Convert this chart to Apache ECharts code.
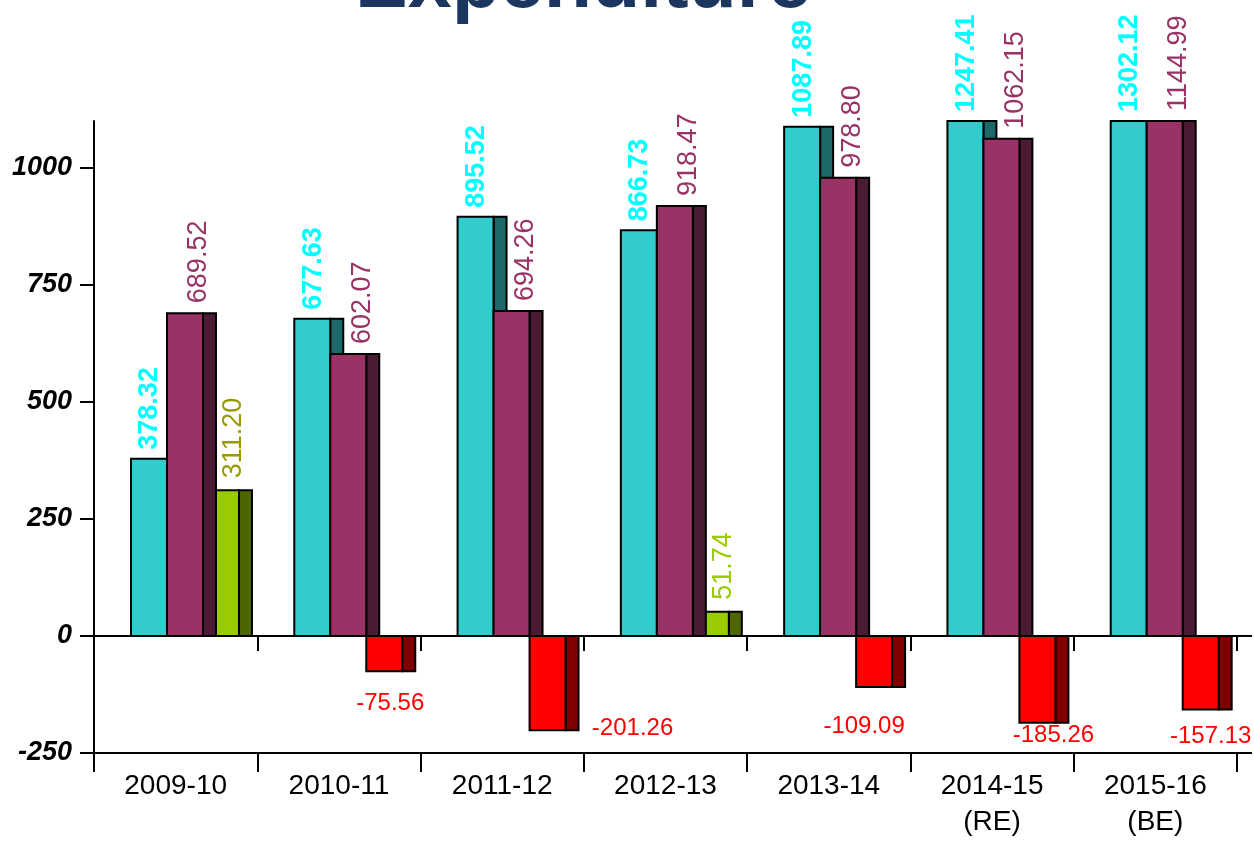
<!DOCTYPE html>
<html><head><meta charset="utf-8">
<script src="https://cdn.jsdelivr.net/npm/echarts@6/dist/echarts.min.js"></script>
<style>html,body{margin:0;padding:0;background:#fff}#c{width:1254px;height:841px}</style>
</head><body><div id="c"></div>
<script>
// ---- data ----
const categories = ['2009-10', '2010-11', '2011-12', '2012-13', '2013-14', '2014-15\n(RE)', '2015-16\n(BE)'];
const receipts = [378.32, 677.63, 895.52, 866.73, 1087.89, 1247.41, 1302.12];
const expenditure = [689.52, 602.07, 694.26, 918.47, 978.80, 1062.15, 1144.99];
const balance = [311.20, -75.56, -201.26, 51.74, -109.09, -185.26, -157.13];
const yTicks = [-250, 0, 250, 500, 750, 1000];
const yMin = -250, yMax = 1100, yStep = 250;

// ---- layout / style (not data) ----
const FONT = 'Arial, "Liberation Sans", sans-serif';
const G0 = 0.2266, FW = 0.2204, SW = 0.0796;   // fractions of category band
const deficitLabelNudge = [[0, 0], [6, 32], [85, -2], [0, 0], [-10, 39], [16, 13], [10, 27]];
const surplusLabelColors = ['#999900', '#99CC00', '#99CC00', '#99CC00', '#99CC00', '#99CC00', '#99CC00'];

function makeRender(slot, getColors, labelCfg) {
  return function (params, api) {
    const i = api.value(0), v = api.value(1);
    const bw = api.size([1, 0])[0];
    const cx = api.coord([i, 0])[0];
    const y0 = api.coord([i, 0])[1];
    const cs = params.coordSys;
    let y1 = api.coord([i, v])[1];
    y1 = Math.max(cs.y, Math.min(cs.y + cs.height, y1));
    const fw = bw * FW, sw = bw * SW;
    const x0 = cx - bw / 2 + bw * (G0 + slot * FW);
    const top = Math.min(y0, y1), h = Math.abs(y1 - y0);
    const col = getColors(v, i);
    const children = [
      { type: 'rect', shape: { x: x0 + fw, y: top, width: sw, height: h },
        style: { fill: col[1], stroke: '#000', lineWidth: 2 }, z2: 1 },
      { type: 'rect', shape: { x: x0, y: top, width: fw, height: h },
        style: { fill: col[0], stroke: '#000', lineWidth: 2 }, z2: 2 }
    ];
    const txt = v.toFixed(2);
    if (v >= 0) {
      children.push({ type: 'text', x: x0 + labelCfg.dx, y: top - labelCfg.gap, rotation: Math.PI / 2, z2: 100,
        style: { text: txt, fill: col[2], font: labelCfg.font, align: 'left', verticalAlign: 'middle' } });
    } else {
      const n = deficitLabelNudge[i];
      children.push({ type: 'text', x: x0 + fw / 2 + n[0], y: top + h + n[1], z2: 100,
        style: { text: txt, fill: col[2], font: '24px ' + FONT, align: 'center', verticalAlign: 'middle' } });
    }
    return { type: 'group', children: children };
  };
}

const toData = arr => arr.map((v, i) => [i, v]);

const chart = echarts.init(document.getElementById('c'), null, { renderer: 'canvas' });
const option = {
  backgroundColor: '#ffffff',
  animation: false,
  title: {
    text: 'Expenditure', left: 355, top: -54, padding: 0,
    textStyle: { color: '#1B365F', fontSize: 79, fontWeight: 'bold', fontFamily: FONT,
      textShadowColor: '#E8E5DA', textShadowBlur: 0, textShadowOffsetX: 5, textShadowOffsetY: 5 }
  },
  grid: { left: 94, right: 17, top: 121, bottom: 88 },
  xAxis: [
    { type: 'category', data: categories, position: 'bottom',
      axisLine: { onZero: false, lineStyle: { color: '#000', width: 2 } },
      axisTick: { show: true, length: 19, lineStyle: { color: '#000', width: 2 } },
      axisLabel: { color: '#000', fontSize: 28, fontFamily: FONT, margin: 15, lineHeight: 36, interval: 0 } },
    { type: 'category', data: categories, position: 'top',
      axisLine: { onZero: true, lineStyle: { color: '#000', width: 2 } },
      axisTick: { show: true, inside: true, length: 15, lineStyle: { color: '#000', width: 2 } },
      axisLabel: { show: false } }
  ],
  yAxis: {
    type: 'value', min: yMin, max: yMax, interval: yStep,
    axisLine: { show: true, onZero: false, lineStyle: { color: '#000', width: 2 } },
    axisTick: { show: true, length: 14, customValues: yTicks, lineStyle: { color: '#000', width: 2 } },
    axisLabel: { customValues: yTicks, formatter: v => String(v), color: '#000', fontSize: 27, fontWeight: 'bold',
      fontStyle: 'italic', fontFamily: FONT, margin: 22 },
    splitLine: { show: false }
  },
  series: [
    { type: 'custom', name: 'Balance', xAxisIndex: 0, data: toData(balance), z: 2,
      renderItem: makeRender(2, (v, i) => v >= 0 ? ['#99CC00', '#4D6600', surplusLabelColors[i]] : ['#FF0000', '#800000', '#FF0000'],
        { dx: 31, gap: 12, font: '27px ' + FONT }) },
    { type: 'custom', name: 'Receipts', xAxisIndex: 0, data: toData(receipts), z: 3,
      renderItem: makeRender(0, () => ['#33CCCC', '#1D6868', '#00FFFF'],
        { dx: 19, gap: 9, font: 'bold 27px ' + FONT }) },
    { type: 'custom', name: 'Expenditure', xAxisIndex: 0, data: toData(expenditure), z: 4,
      renderItem: makeRender(1, () => ['#993366', '#4B1A33', '#993366'],
        { dx: 32, gap: 10, font: '27px ' + FONT }) }
  ]
};
chart.setOption(option);

// extend the two horizontal axis lines slightly past the last category boundary
const yZero = chart.convertToPixel({ yAxisIndex: 0 }, 0);
const yBottom = chart.convertToPixel({ yAxisIndex: 0 }, yMin);
const xEnd = chart.getWidth() - 17;
chart.setOption({ graphic: [
  { type: 'line', shape: { x1: xEnd, y1: yZero, x2: xEnd + 15, y2: yZero }, style: { stroke: '#000', lineWidth: 2 } },
  { type: 'line', shape: { x1: xEnd, y1: yBottom, x2: xEnd + 15, y2: yBottom }, style: { stroke: '#000', lineWidth: 2 } }
] });
</script>
</body></html>
